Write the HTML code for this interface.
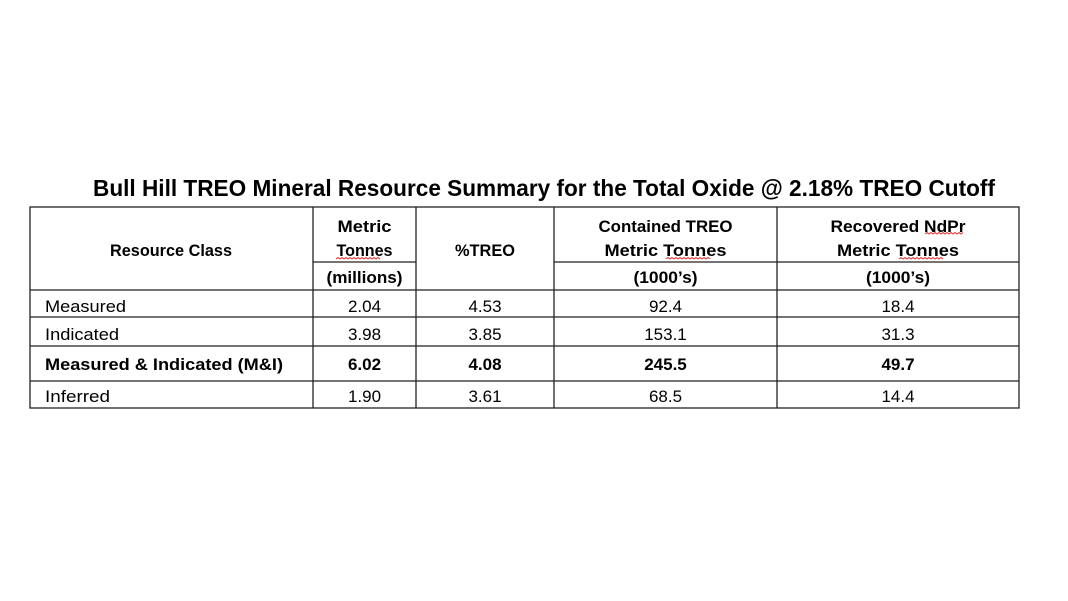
<!DOCTYPE html>
<html><head><meta charset="utf-8"><style>html,body{margin:0;padding:0;background:#fff}svg{display:block}</style></head>
<body>
<svg width="1068" height="601" viewBox="0 0 1068 601" xmlns="http://www.w3.org/2000/svg" font-family="Liberation Sans, sans-serif" fill="#000">
<text x="93" y="196" font-size="23" font-weight="bold" textLength="902" lengthAdjust="spacingAndGlyphs">Bull Hill TREO Mineral Resource Summary for the Total Oxide @ 2.18% TREO Cutoff</text>
<g stroke="#222" stroke-width="1.3" fill="none">
<rect x="30" y="207" width="989" height="201"/>
<line x1="313" y1="207" x2="313" y2="408"/>
<line x1="416" y1="207" x2="416" y2="408"/>
<line x1="554" y1="207" x2="554" y2="408"/>
<line x1="777" y1="207" x2="777" y2="408"/>
<line x1="313" y1="262" x2="416" y2="262"/>
<line x1="554" y1="262" x2="1019" y2="262"/>
<line x1="30" y1="290" x2="1019" y2="290"/>
<line x1="30" y1="317" x2="1019" y2="317"/>
<line x1="30" y1="346" x2="1019" y2="346"/>
<line x1="30" y1="381" x2="1019" y2="381"/>
</g>
<g font-size="17" font-weight="bold" text-anchor="middle">
<text x="171" y="256" textLength="122" lengthAdjust="spacingAndGlyphs">Resource Class</text>
<text x="364.5" y="232" textLength="54" lengthAdjust="spacingAndGlyphs">Metric</text>
<text x="364.5" y="256" textLength="56" lengthAdjust="spacingAndGlyphs">Tonnes</text>
<text x="364.5" y="283" textLength="76" lengthAdjust="spacingAndGlyphs">(millions)</text>
<text x="485" y="256" textLength="60" lengthAdjust="spacingAndGlyphs">%TREO</text>
<text x="665.5" y="232" textLength="134" lengthAdjust="spacingAndGlyphs">Contained TREO</text>
<text x="665.5" y="256" textLength="122" lengthAdjust="spacingAndGlyphs">Metric Tonnes</text>
<text x="665.5" y="283" textLength="64" lengthAdjust="spacingAndGlyphs">(1000’s)</text>
<text x="898" y="232" textLength="135" lengthAdjust="spacingAndGlyphs">Recovered NdPr</text>
<text x="898" y="256" textLength="122" lengthAdjust="spacingAndGlyphs">Metric Tonnes</text>
<text x="898" y="283" textLength="64" lengthAdjust="spacingAndGlyphs">(1000’s)</text>
</g>
<g stroke="#d33" stroke-width="1" fill="none">
<path d="M336 259 l2 -1.5 l2 1.5 l2 -1.5 l2 1.5 l2 -1.5 l2 1.5 l2 -1.5 l2 1.5 l2 -1.5 l2 1.5 l2 -1.5 l2 1.5 l2 -1.5 l2 1.5 l2 -1.5 l2 1.5 l2 -1.5 l2 1.5 l2 -1.5 l2 1.5 l2 -1.5 l2 1.5"/>
<path d="M666 259 l2 -1.5 l2 1.5 l2 -1.5 l2 1.5 l2 -1.5 l2 1.5 l2 -1.5 l2 1.5 l2 -1.5 l2 1.5 l2 -1.5 l2 1.5 l2 -1.5 l2 1.5 l2 -1.5 l2 1.5 l2 -1.5 l2 1.5 l2 -1.5 l2 1.5 l2 -1.5 l2 1.5"/>
<path d="M899 259 l2 -1.5 l2 1.5 l2 -1.5 l2 1.5 l2 -1.5 l2 1.5 l2 -1.5 l2 1.5 l2 -1.5 l2 1.5 l2 -1.5 l2 1.5 l2 -1.5 l2 1.5 l2 -1.5 l2 1.5 l2 -1.5 l2 1.5 l2 -1.5 l2 1.5 l2 -1.5 l2 1.5"/>
<path d="M925 234 l2 -1.5 l2 1.5 l2 -1.5 l2 1.5 l2 -1.5 l2 1.5 l2 -1.5 l2 1.5 l2 -1.5 l2 1.5 l2 -1.5 l2 1.5 l2 -1.5 l2 1.5 l2 -1.5 l2 1.5 l2 -1.5 l2 1.5 l2 -1.5"/>
</g>
<g font-size="17">
<text x="45" y="312" textLength="81" lengthAdjust="spacingAndGlyphs">Measured</text>
<text x="45" y="340" textLength="74" lengthAdjust="spacingAndGlyphs">Indicated</text>
<text x="45" y="370" font-weight="bold" textLength="238" lengthAdjust="spacingAndGlyphs">Measured &amp; Indicated (M&amp;I)</text>
<text x="45" y="402" textLength="65" lengthAdjust="spacingAndGlyphs">Inferred</text>
</g>
<g font-size="17" text-anchor="middle">
<text x="364.5" y="312">2.04</text><text x="485" y="312">4.53</text><text x="665.5" y="312">92.4</text><text x="898" y="312">18.4</text>
<text x="364.5" y="340">3.98</text><text x="485" y="340">3.85</text><text x="665.5" y="340">153.1</text><text x="898" y="340">31.3</text>
<g font-weight="bold"><text x="364.5" y="370">6.02</text><text x="485" y="370">4.08</text><text x="665.5" y="370">245.5</text><text x="898" y="370">49.7</text></g>
<text x="364.5" y="402">1.90</text><text x="485" y="402">3.61</text><text x="665.5" y="402">68.5</text><text x="898" y="402">14.4</text>
</g>
</svg>
</body></html>
